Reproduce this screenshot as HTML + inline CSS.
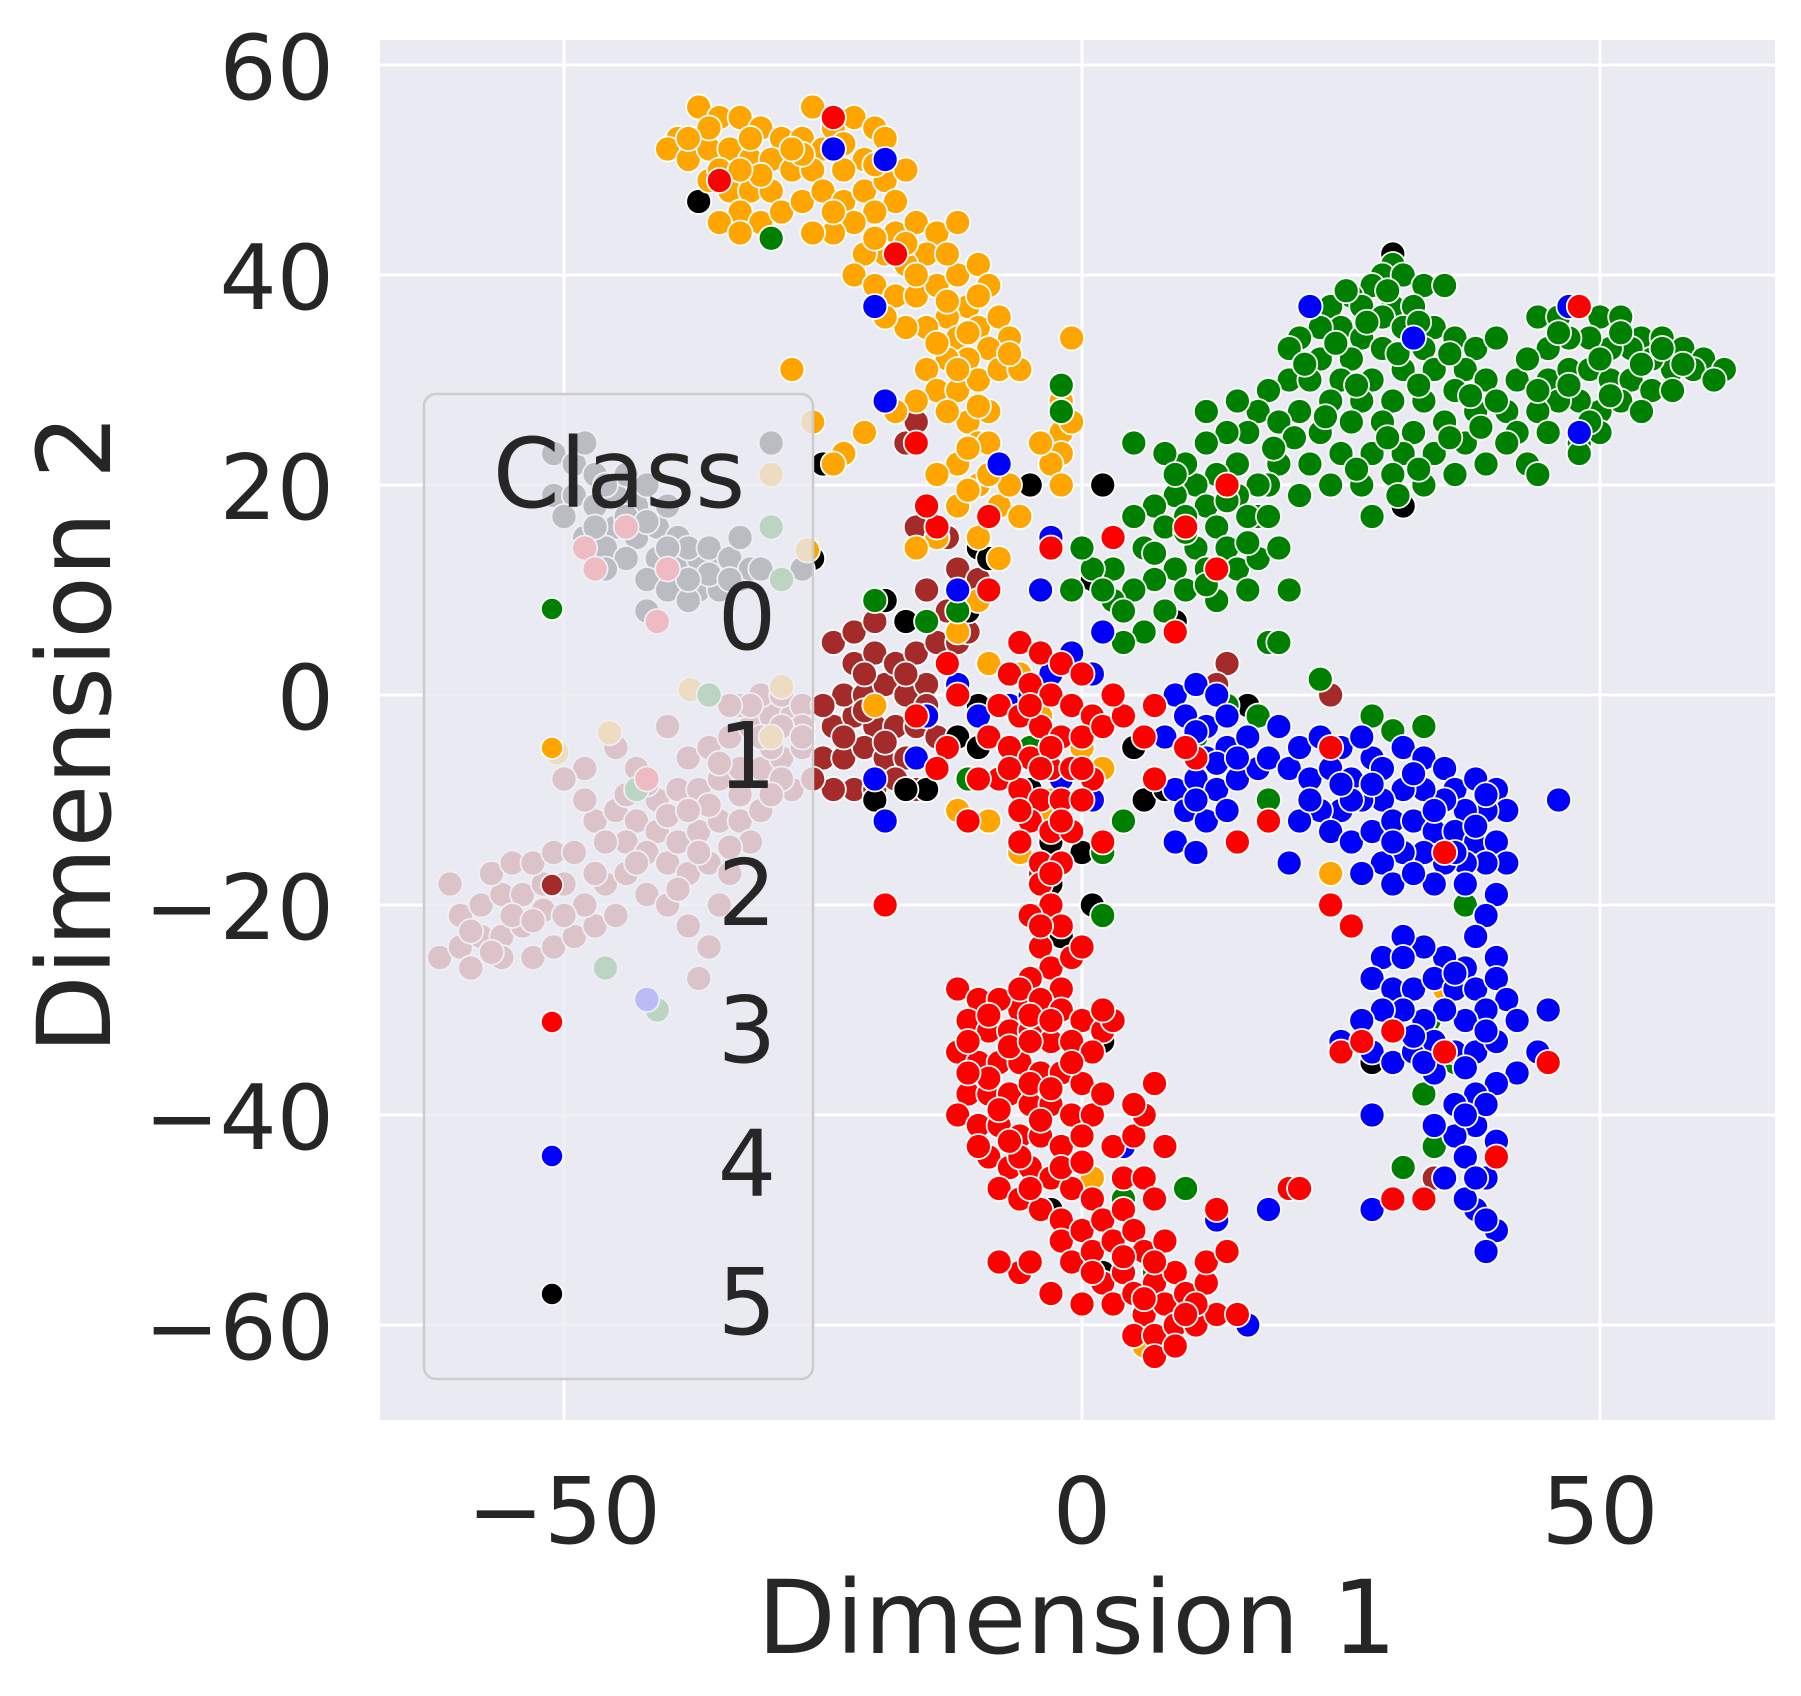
<!DOCTYPE html>
<html><head><meta charset="utf-8"><style>html,body{margin:0;padding:0;background:#fff}svg{display:block}text{font-family:"DejaVu Sans","Liberation Sans",sans-serif;fill:#262626}</style></head>
<body>
<svg id="chart" width="1801" height="1696" viewBox="0 0 1801 1696" xmlns="http://www.w3.org/2000/svg">
<rect x="380" y="40" width="1395" height="1380" fill="#EAEAF2"/>
<g id="grid"></g>
<g id="points"></g>
<g id="ticks"></g>
<text x="1077" y="1653" font-size="102" text-anchor="middle">Dimension 1</text>
<text transform="translate(110,734) rotate(-90)" font-size="102" text-anchor="middle">Dimension 2</text>
<g id="legend">
<rect x="424" y="394" width="389" height="985" rx="12" fill="#EAEAF2" fill-opacity="0.8" stroke="#cccccc" stroke-width="2.5"/>
<text x="619" y="507" font-size="96" text-anchor="middle">Class</text>
</g>
</svg>
<script>
const xTicks=[-50,0,50];
const yTicks=[-60,-40,-20,0,20,40,60];
const classNames=["0","1","2","3","4","5"];
const classColors=["#008000","#FFA500","#A52A2A","#FF0000","#0000FF","#000000"];
const class0=[[30,41],[29,40],[28,39],[31,40],[26,38],[24,37],[22,37],[27,37],[30,37],[33,39],[35,39],[32,37],[29,36],[25,35],[23,35],[21,34],[20,33],[27,34],[31,35],[34,35],[36,34],[38,33],[40,34],[33,33],[29,33],[26,32],[23,32],[20,30],[18,29],[17,27],[22,30],[25,30],[28,30],[31,31],[34,31],[37,31],[39,30],[36,29],[33,28],[30,28],[27,28],[24,28],[21,27],[19,26],[16,25],[14,25],[12,27],[15,28],[23,25],[26,26],[29,26],[32,25],[35,26],[38,27],[41,27],[37,24],[34,23],[31,23],[28,23],[25,23],[22,22],[19,22],[30,21],[27,20],[36,21],[39,22],[33,20],[24,20],[21,19],[18,20],[17,17],[28,17],[40,28],[42,30],
[29.5,38.5],[27.5,35.5],[32.5,35.5],[24.5,33.5],[30.5,32.5],[35.5,32.5],[21.5,31.5],[26.5,29.5],[32.5,29.5],[37.5,28.5],[23.5,26.5],[29.5,24.5],[35.5,24.5],[20.5,24.5],[26.5,21.5],[32.5,21.5],[38.5,25.5],[18.5,23.5],[30.5,19],[25.5,38.5],
[44,36],[46,36],[48,37],[50,36],[52,36],[54,34],[56,34],[58,33],[60,32],[62,31],[59,31],[57,31],[55,32],[53,33],[51,33],[49,34],[47,34],[45,33],[43,32],[45,30],[47,31],[49,31],[51,30],[53,30],[55,29],[52,28],[50,27],[48,28],[46,28],[44,27],[42,25],[45,25],[48,24],[50,25],[54,27],[57,29],[61,30],[43,22],[41,24],[44,21],[48,23],
[46,34.5],[50,32],[54,31.5],[58,31.5],[47,29.5],[51,28.5],[44,29],[52,34.5],[56,33],[49,26],
[15,22],[13,21],[11,20],[9,19],[7,18],[5,17],[17,20],[15,19],[12,18],[10,17],[8,16],[6,14],[13,16],[16,17],[18,17],[14,14],[11,14],[9,12],[7,11],[5,10],[3,9],[12,12],[15,12],[17,13],[10,10],[8,8],[6,6],[4,5],[13,9],[16,10],[18,5],[20,10],[19,14],[12,24],[10,22],[8,23],[5,24],[3,12],[1,12],[0,14],[-1,10],[2,10],
[14,18.5],[10,15.5],[7,13.5],[12,10.5],[9,21],[16,14.5],[4,8],
[-2,29.5],[-2,27],[-30,43.5],[-9,10],[-12,8],[-20,9],[-15,7],[-11,-8],[-8,-8],[-2,-12],[-5,-5],[2,-15],[4,-12],[2,-21],[30,-3.4],[33,-3],[37,-20],[33.5,-31],[34,-43],[31,-45],[10,-47],[4,-48],[7,-55],[23,1.5],[19,5],[11,-4],[14,-1],[17,-2],[18,-10],[28,-2],[26,-8],[33,-38],[36,-35],[-30,16],[-29,11],[-36,0],[-46,-26],[-41,-30],[-43,-9]];
const class1=[[-37,56],[-35,55],[-33,55],[-31,54],[-29,53],[-39,53],[-40,52],[-38,51],[-36,52],[-34,52],[-32,51],[-30,51],[-28,50],[-36,49],[-34,48],[-32,48],[-30,48],[-33,46],[-31,45],[-35,45],[-33,44],[-29,46],[-27,47],[-26,56],[-27,53],[-25,52],[-26,50],[-24,54],[-22,55],[-20,54],[-19,53],[-21,51],[-23,50],[-25,48],[-23,47],[-21,48],[-19,49],[-17,50],[-18,47],[-20,46],[-22,45],[-24,44],[-26,44],[-18,44],[-16,45],[-14,44],[-12,45],[-15,42],[-17,41],[-19,42],[-21,42],[-22,40],[-20,39],[-18,38],[-16,38],[-14,39],[-12,40],[-10,41],[-9,39],[-11,37],[-13,36],[-15,35],[-17,35],[-19,36],[-12,34],[-10,35],[-8,36],[-7,34],[-9,33],[-11,32],[-13,32],[-15,31],[-14,29],[-12,29],[-10,30],[-8,31],[-6,31],[-9,27],[-11,26],[-13,27],[-10,24],[-8,22],[-12,22],[-14,21],[-10,20],[-8,18],[-12,18],[-14,15],[-16,14],[-10,15],[-8,13],[-6,17],[-7,20],[-9,24],[-16,28],[-18,27],[-28,31],[-26,26],[-23,23],[-21,25],[-1,34],[-2,25],[-2,23],[-3,22],[-4,24],[-2,20],[-1,26],[-2,28],[-24,22],
[-36,54],[-32,53],[-38,53],[-35,50],[-31,49.5],[-33,50],[-27,51.5],[-23,52.5],[-20,50.5],[-24,46],[-20,43.5],[-17,43],[-13,42],[-16,40],[-13,37.5],[-10,38],[-14,33.5],[-11,34.5],[-7,32.5],[-12,31],[-10,27.5],[-11,23.5],[-9,21],[-11,19.5],[-28,52],
[-12,6],[-10,9],[-9,3],[-6,2],[-4,-2],[-3,-10],[-9,-12],[-12,-11],[-11,-8],[-20,-1],[-30,-4],[0,-5],[2,-7],[1,-46],[6,-62],[-4,-11],[-6,-15],[-30,21],[-45.6,-3.6],[-50.7,-5.5],[-37.8,0.5],[-29,0.8],[-26.5,13.8],[24,-17],[35,-28]];
const class2=[[-62,-25],[-60,-24],[-58,-23],[-56,-23],[-54,-22],[-60,-21],[-58,-20],[-56,-19],[-54,-19],[-52,-18],[-50,-18],[-57,-17],[-55,-16],[-53,-16],[-51,-15],[-49,-15],[-61,-18],[-59,-26],[-56,-25],[-53,-25],[-51,-24],[-49,-23],[-47,-22],[-45,-21],[-48,-20],[-46,-18],[-44,-17],[-47,-12],[-45,-11],[-43,-12],[-41,-13],[-44,-14],[-42,-15],[-40,-16],[-38,-17],[-36,-16],[-39,-14],[-37,-13],[-35,-12],[-33,-12],[-31,-11],[-41,-10],[-39,-9],[-37,-9],[-35,-8],[-33,-7],[-31,-7],[-29,-6],[-38,-6],[-36,-5],[-34,-4],[-32,-3],[-30,-2],[-28,-2],[-33,-1],[-31,0],[-29,0],[-27,-1],[-30,-5],[-28,-9],[-42,-19],[-40,-20],[-38,-22],[-36,-24],[-35,-20],[-37,-27],[-34,-17],[-32,-14],[-43,-7],[-45,-5],[-48,-7],[-50,-8],[-32,-1],[-34,-1],[-40,-3],
[-59,-22.5],[-55,-21],[-52,-20.5],[-57,-24.5],[-50,-21],[-47,-17],[-43,-16],[-39,-18.5],[-37,-15],[-40,-11.5],[-36,-10.5],[-33,-9.5],[-35,-6.5],[-31,-4],[-29,-8],[-42,-8.5],[-38,-11],[-46,-14],[-44,-9.5],[-53,-21.5],[-48,-10],[-34,-14.5],[-30,-9.5],[-27,-5],
[-24,-3],[-22,-2],[-20,-3],[-18,-3],[-16,-3],[-23,0],[-21,0],[-19,1],[-17,0],[-15,1],[-22,3],[-20,4],[-18,3],[-16,4],[-14,5],[-24,5],[-22,6],[-20,7],[-12,5],[-13,8],[-11,6],[-25,-6],[-23,-6],[-21,-5],[-19,-6],[-17,-6],[-22,-9],[-20,-9],[-18,-8],[-16,-9],[-14,-4],[-24,-9],[-15,10],[-12,12],[-26,-8],[-27,-3],[-29,-3],[-17,24],[-16,16],[-13,15],[-10,11],[-3,-15],[-4,-17],[14,3],[13,1],[24,0],[34,-46],[-16,26],[-27,-4],
[-21,-1.5],[-19,-4.5],[-23,-4],[-17,2],[-21,2],[-25,-1],[-15,-1]];
const class3=[[-6,5],[-4,4],[-2,3],[0,2],[-7,2],[-5,1],[-3,0],[-1,-1],[1,-2],[-8,-1],[-6,-2],[-4,-3],[-2,-4],[0,-4],[2,-3],[-9,-4],[-7,-5],[-5,-6],[-3,-7],[-1,-7],[1,-8],[-8,-8],[-6,-9],[-4,-10],[-2,-10],[0,-10],[-5,-12],[-3,-13],[-1,-13],[-6,-14],[-4,-16],[-2,-16],[-10,-8],[-11,-12],[-12,0],[-13,3],[4,-2],[3,0],[6,-4],[7,-8],[2,-14],[-9,10],[-14,16],[-15,18],[-16,24],[-19,-20],
[-5,-1],[-3,-5],[-7,-7],[-2,-12],[-4,-7],[0,-7],[-6,-11],
[-4,-18],[-3,-20],[-5,-21],[-2,-22],[-4,-24],[-3,-26],[-5,-27],[-1,-25],[0,-24],[-2,-28],[-6,-30],[-4,-22],[-3,-17],
[-12,-28],[-10,-29],[-8,-29],[-6,-28],[-4,-29],[-2,-30],[0,-31],[2,-32],[-11,-31],[-9,-32],[-7,-32],[-5,-32],[-3,-33],[-1,-33],[1,-34],[-12,-34],[-10,-35],[-8,-35],[-6,-35],[-4,-36],[-2,-36],[0,-37],[-11,-38],[-9,-38],[-7,-38],[-5,-39],[-3,-39],[-1,-40],[1,-40],[2,-38],[-12,-40],[-10,-41],[-8,-41],[-6,-42],[-4,-42],[-2,-43],[0,-42],[-9,-44],[-7,-45],[-5,-45],[-3,-46],[-1,-47],[1,-48],[-8,-47],[-6,-48],[-4,-49],[-2,-50],[3,-43],[4,-46],[5,-42],[6,-40],[7,-37],[5,-39],[3,-31],[2,-30],
[-9,-30.5],[-5,-30.5],[-11,-33],[-7,-33.5],[-3,-31],[-9,-36.5],[-5,-37],[-1,-35],[-11,-36],[-8,-39.5],[-4,-40.5],[-10,-43],[-6,-44],[-2,-45],[-7,-42.5],[-3,-37.5],[0,-44.5],[-5,-47],
[-2,-52],[0,-51],[2,-50],[4,-49],[-1,-54],[1,-53],[3,-52],[5,-51],[-3,-57],[0,-58],[2,-56],[4,-55],[6,-53],[8,-52],[3,-58],[5,-57],[7,-56],[9,-55],[6,-59],[8,-58],[10,-57],[12,-56],[5,-61],[7,-61],[9,-60],[11,-60],[13,-59],[15,-59],[7,-63],[11,-58],[12,-54],[14,-53],[13,-49],[6,-46],[8,-43],[7,-48],[-6,-55],[-8,-54],[-5,-54],
[1,-55],[4,-53.5],[7,-54],[6,-57.5],[9,-62],[10,-59],
[20,-47],[21,-47],[24,-20],[26,-22],[25,-34],[27,-33],[30,-32],[35,-34],[30,-48],[33,-48],[40,-44],[45,-35],[48,37],[13,12],[10,16],[14,20],[11,-6],[7,-1],[9,6],[3,15],[-3,14],[-9,17],[-18,42],[-24,55],[-35,49],[-5,-33],[10,-5],[18,-12],[24,-5],[35,-15],[15,-14],[-13,-5],[-16,-2],[-14,-7],[-48,14],[-47,12],[-42,-8],[-44,16],[-40,12],[-41,7]];
const class4=[[9,0],[11,1],[13,0],[10,-2],[12,-3],[14,-2],[8,-4],[10,-5],[12,-6],[14,-5],[16,-4],[7,-8],[9,-9],[11,-8],[13,-9],[15,-8],[17,-7],[10,-11],[12,-12],[14,-11],[9,-14],[11,-15],[19,-3],[18,-6],[20,-7],[22,-8],[21,-5],[23,-4],[25,-5],[24,-7],[26,-8],[28,-6],[27,-4],[29,-7],[31,-5],[33,-6],[35,-7],[36,-9],[38,-8],[40,-9],[41,-11],[39,-11],[37,-11],[35,-10],[33,-9],[31,-9],[29,-10],[27,-10],[25,-11],[23,-11],[21,-12],[24,-13],[26,-14],[28,-13],[30,-12],[32,-12],[34,-13],[36,-13],[38,-14],[40,-14],[41,-16],[39,-16],[37,-16],[35,-16],[33,-15],[31,-15],[29,-16],[27,-17],[30,-18],[34,-18],[37,-18],[40,-19],[26,-10],[20,-16],
[11,-3.5],[13,-6.5],[11,-10],[15,-6],[28,-8.5],[32,-7.5],[34,-11],[38,-12.5],[30,-14],[25,-8.5],[36,-15],[32,-17],[39,-9.5],[22,-10],
[39,-21],[38,-23],[40,-25],[37,-26],[35,-25],[33,-24],[31,-23],[29,-25],[28,-27],[30,-28],[32,-28],[34,-27],[36,-28],[38,-28],[40,-27],[41,-29],[39,-30],[37,-31],[35,-30],[33,-31],[31,-30],[29,-30],[27,-31],[25,-33],[28,-34],[30,-35],[32,-34],[34,-33],[36,-34],[38,-34],[40,-33],[42,-31],[44,-34],[45,-30],[42,-36],[40,-37],[38,-38],[36,-39],[34,-36],[38,-41],[36,-42],[34,-41],[37,-44],[39,-46],[35,-46],[38,-49],[40,-51],[39,-53],[37,-48],[28,-40],[31,-25],[33,-35],
[36,-26.5],[39,-32],[32,-32.5],[37,-35.5],[39,-39],[37,-40],[40,-42.5],[38,-46],[39,-50],
[-12,1],[-10,-2],[-7,-1],[-5,0],[-3,2],[-1,4],[1,2],[2,6],[-4,10],[-12,10],[-15,-2],[-16,-6],[-19,-12],[-20,-8],[-6,-11],[1,-10],[-2,-8],[-19,51],[-24,52],[-20,37],[-19,28],[-3,15],[-8,22],[13,-50],[18,-49],[16,-60],[4,-43],[22,37],[32,34],[46,-10],[48,25],[47,37],[-42,-29],[28,-49]];
const class5=[[-51,23],[-49,22],[-47,21],[-51,19],[-49,19],[-47,18],[-45,19],[-43,18],[-45,16],[-43,15],[-41,16],[-39,15],[-41,13],[-39,12],[-37,13],[-35,12],[-37,10],[-35,10],[-33,11],[-48,15],[-46,14],[-44,13],[-42,11],[-40,10],[-38,14],[-36,14],[-34,13],[-32,12],[-44,21],[-42,20],[-50,17],[-46,12],[-38,9],[-31,12],[-40,18],[-48,24],[-42,8],[-33,15],[-30,24],
[-46,20],[-44,17],[-40,14],[-36,11.5],[-42,16.5],[-38,11],[-47,16],[-34,11],
[-37,47],[-25,22],[-26,13],[-27,12],[-19,9],[-17,7],[-10,14],[-9,13],[-11,8],[-12,-4],[-10,-5],[-6,-6],[-4,-3],[-5,-9],[-3,-14],[-3,-18],[-4,-24],[-2,-23],[0,-15],[1,-20],[2,-33],[2,20],[1,11],[6,-10],[8,-9],[9,7],[5,-5],[16,-1],[30,42],[31,18],[34,-35],[-15,-9],[-17,-9],[-3,-49],[2,-55],[-5,-37],[-1,-40],[11,-9],[28,-35],[-20,-10],[-5,20],[-10,-1]];
const series=[class0,class1,class2,class3,class4,class5];
const drawOrder=[2,5,1,0,4,3];
const legendY=[609,748,885,1022,1156,1294];

const NS="http://www.w3.org/2000/svg";
function X(v){return 1082+10.36*v;}
function Y(v){return 695-10.5*v;}
function mk(tag,attrs,parent){const e=document.createElementNS(NS,tag);for(const k in attrs)e.setAttribute(k,attrs[k]);parent.appendChild(e);return e;}
const grid=document.getElementById('grid'),ticks=document.getElementById('ticks'),pts=document.getElementById('points'),leg=document.getElementById('legend');
xTicks.forEach(t=>{
  const l=mk('line',{x1:X(t),x2:X(t),y1:40,y2:1420,stroke:'#fff','stroke-width':3},grid);
  
  
  const tx=mk('text',{x:X(t),y:1543,'font-size':92,'text-anchor':'middle'},ticks);
  tx.textContent=t<0?'\u2212'+Math.abs(t):String(t);
  
  
});
yTicks.forEach(t=>{
  const l=mk('line',{x1:380,x2:1775,y1:Y(t),y2:Y(t),stroke:'#fff','stroke-width':3},grid);
  
  
  const tx=mk('text',{x:334,y:Y(t)+34,'font-size':90,'text-anchor':'end'},ticks);
  tx.textContent=t<0?'\u2212'+Math.abs(t):String(t);
  
  
});
drawOrder.forEach(ci=>{
  series[ci].forEach(p=>{
    const c=mk('circle',{cx:X(p[0]),cy:Y(p[1]),r:12.5,fill:classColors[ci],stroke:'#fff','stroke-width':1.8},pts);
    
    
  });
});
classNames.forEach((n,i)=>{
  const c=mk('circle',{cx:552,cy:legendY[i],r:11,fill:classColors[i],stroke:'#fff','stroke-width':1.6},leg);
  
  
  const t=mk('text',{x:747,y:legendY[i]+40,'font-size':92,'text-anchor':'middle'},leg);
  t.textContent=n;
  
  
});
</script>
</body></html>
